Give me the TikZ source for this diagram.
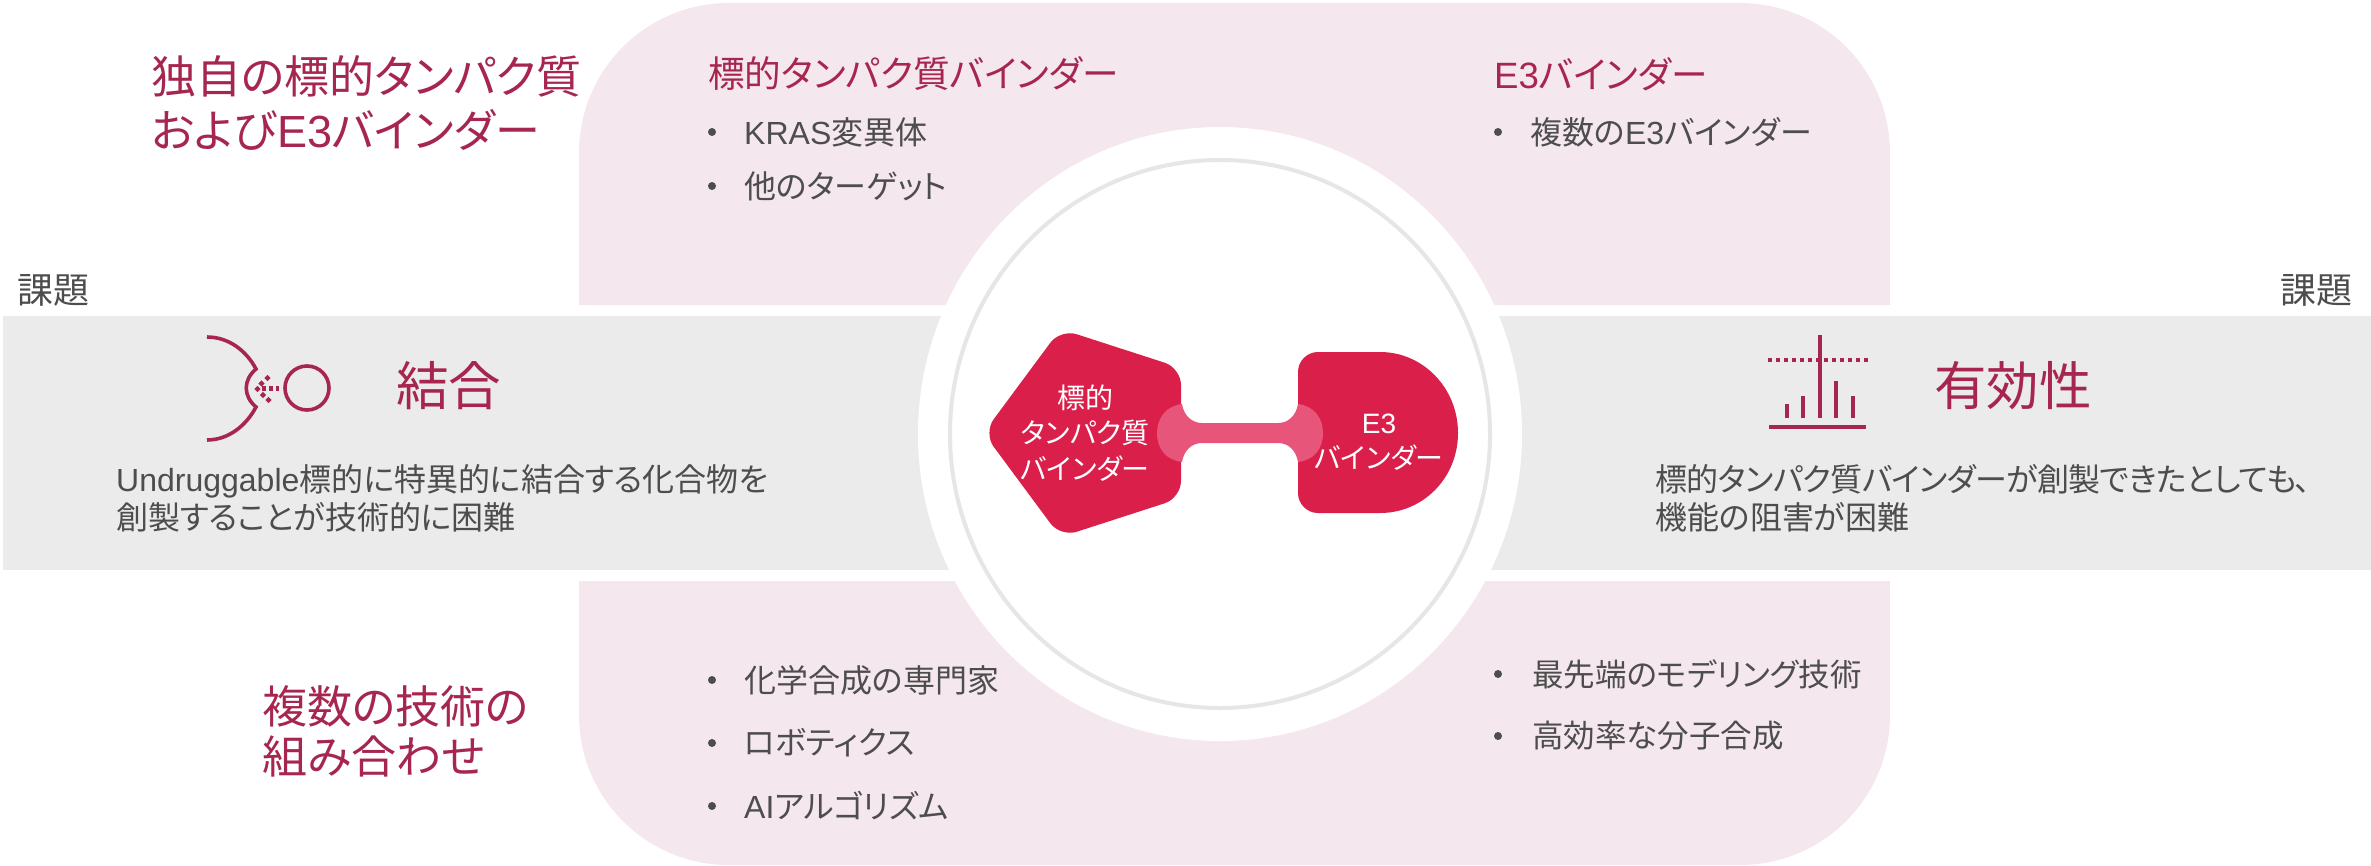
\documentclass[tikz,border=0pt]{standalone}
\usepackage{fontspec}
\setmainfont{Noto Sans CJK JP}[RawFeature=+palt]
\newfontfamily\lat{Liberation Sans}
\newcommand{\La}[1]{{\lat #1}}
\definecolor{maroon}{HTML}{A6264F}
\definecolor{pinkbg}{HTML}{F5E7EE}
\definecolor{graybg}{HTML}{EBEBEB}
\definecolor{ringgray}{HTML}{E6E6E6}
\definecolor{txt}{HTML}{4D4D4D}
\definecolor{redm}{HTML}{DA1F4B}
\definecolor{redl}{HTML}{E8557A}
\tikzset{
  heading/.style={anchor=west,inner sep=0pt,align=left,text=maroon,font=\fontsize{45}{54}\selectfont},
  subhead/.style={anchor=west,inner sep=0pt,text=maroon,font=\fontsize{36.6}{40}\selectfont},
  bigword/.style={anchor=west,inner sep=0pt,text=maroon,font=\fontsize{52.5}{60}\selectfont},
  itemtext/.style={anchor=west,inner sep=0pt,text=txt,font=\fontsize{32}{38}\selectfont},
  paratext/.style={anchor=west,inner sep=0pt,align=left,text=txt,font=\fontsize{32}{38}\selectfont},
  tag/.style={anchor=west,inner sep=0pt,text=txt,font=\fontsize{36}{42}\selectfont},
  bulletmark/.style={circle,fill=txt,inner sep=0pt,minimum size=8pt},
  mol/.style={inner sep=0pt,align=center,text=white,font=\fontsize{28}{35.5}\selectfont},
  icon/.style={draw=maroon,line width=3.6pt},
  spark/.style={fill=maroon,minimum size=4.5pt,inner sep=0pt},
  sparkd/.style={spark,rotate=45}
}
\begin{document}
\begin{tikzpicture}[x=1pt,y=-1pt]
\useasboundingbox (0,0) rectangle (2371,865);
% pink panels
\fill[pinkbg] (579,305) -- (579,153) .. controls (579,70) and (646,3) .. (729,3)
   -- (1740,3) .. controls (1823,3) and (1890,70) .. (1890,153) -- (1890,305) -- cycle;
\fill[pinkbg] (579,581) -- (579,715) .. controls (579,798) and (646,865) .. (729,865)
   -- (1740,865) .. controls (1823,865) and (1890,798) .. (1890,715) -- (1890,581) -- cycle;
% grey band
\fill[graybg] (3,316) rectangle (2371,570);
% central disc
\fill[white] (1220,434) ellipse[x radius=302pt,y radius=307pt];
\draw[ringgray,line width=4pt] (1220,434) ellipse[x radius=270pt,y radius=274pt];
% molecule
\fill[redm,rounded corners=17pt] (983.5,433) -- (1060.5,329) -- (1181,368) -- (1181,498) -- (1060.5,537) -- cycle;
\fill[redm] (1318,352) -- (1380,352) .. controls (1423,352) and (1458,388) .. (1458,433)
   .. controls (1458,478) and (1423,513) .. (1380,513) -- (1318,513)
   .. controls (1307,513) and (1298,504) .. (1298,493) -- (1298,372)
   .. controls (1298,361) and (1307,352) .. (1318,352) -- cycle;
\fill[redl] (1182,404) .. controls (1184,416) and (1192,423) .. (1202,423) -- (1278,423)
   .. controls (1288,423) and (1296,416) .. (1298,404)
   .. controls (1314,406) and (1323,418) .. (1323,433)
   .. controls (1323,449) and (1314,460) .. (1298,462)
   .. controls (1296,450) and (1288,443) .. (1278,443) -- (1202,443)
   .. controls (1192,443) and (1184,450) .. (1182,462)
   .. controls (1166,460) and (1157,449) .. (1157,433)
   .. controls (1157,418) and (1166,406) .. (1182,404) -- cycle;
\node[mol] (target) at (1085,433) {標的\\タンパク質\\バインダー};
\node[mol] (e3) at (1379,442) {\La{E3}\\バインダー};
% left icon
\draw[icon] (207,337) .. controls (228,337) and (246,350) .. (256,369)
   .. controls (243,380) and (243,396) .. (256,407)
   .. controls (246,426) and (228,440) .. (207,440);
\draw[icon] (307,388) circle[radius=22pt];
\node[sparkd] (s1) at (267.5,378) {};
\node[sparkd] (s2) at (261.5,383.5) {};
\node[sparkd] (s3) at (257.5,389) {};
\node[sparkd] (s4) at (263,395) {};
\node[sparkd] (s5) at (268.5,400) {};
\node[spark] (s6) at (264,388.5) {};
\node[spark] (s7) at (271,388.5) {};
\node[spark,minimum width=2.5pt] (s8) at (277.5,388.5) {};
% right icon
\fill[maroon] (1769,425) rectangle (1866,429);
\foreach \i in {0,...,12} \fill[maroon] ({1770+8*\i-2},358) rectangle ++(4,4);
\fill[maroon] (1785,404) rectangle (1789,418);
\fill[maroon] (1801,396) rectangle (1805,418);
\fill[maroon] (1818,335) rectangle (1822,418);
\fill[maroon] (1834,381) rectangle (1838,418);
\fill[maroon] (1851,396) rectangle (1855,418);
% headings
\node[heading] (h1) at (151,103) {独自の標的タンパク質\\および\La{E3}バインダー};
\node[heading,font=\fontsize{45}{50}\selectfont] (h2) at (262,731) {複数の技術の\\組み合わせ};
\node[subhead] (sub1) at (708,74) {標的タンパク質バインダー};
\node[subhead] (sub2) at (1494,74) {\La{E3}バインダー};
% top items
\node[bulletmark] (b1) at (712,132) {};
\node[itemtext] (i1) at (744,132) {\La{KRAS}変異体};
\node[bulletmark] (b2) at (712,186) {};
\node[itemtext] (i2) at (744,186) {他のターゲット};
\node[bulletmark] (b3) at (1498,132) {};
\node[itemtext] (i3) at (1530,132) {複数の\La{E3}バインダー};
% bottom items
\node[bulletmark] (b4) at (712,680) {};
\node[itemtext] (i4) at (744,680) {化学合成の専門家};
\node[bulletmark] (b5) at (712,743) {};
\node[itemtext] (i5) at (744,743) {ロボティクス};
\node[bulletmark] (b6) at (712,806) {};
\node[itemtext] (i6) at (744,806) {\La{AI}アルゴリズム};
\node[bulletmark] (b7) at (1498,674) {};
\node[itemtext,font=\fontsize{31.5}{38}\selectfont] (i7) at (1532,674) {最先端のモデリング技術};
\node[bulletmark] (b8) at (1498,736) {};
\node[itemtext,font=\fontsize{31.5}{38}\selectfont] (i8) at (1532,736) {高効率な分子合成};
% band
\node[tag] (t1) at (17,290) {課題};
\node[tag] (t2) at (2280,290) {課題};
\node[bigword] (w1) at (396,386) {結合};
\node[bigword] (w2) at (1934,386) {有効性};
\node[paratext] (p1) at (116,498) {\La{Undruggable}標的に特異的に結合する化合物を\\創製することが技術的に困難};
\node[paratext] (p2) at (1655,498) {{\addfontfeature{LetterSpace=-2}標的タンパク質バインダーが創製できたとしても、}\\機能の阻害が困難};
\end{tikzpicture}
\end{document}
